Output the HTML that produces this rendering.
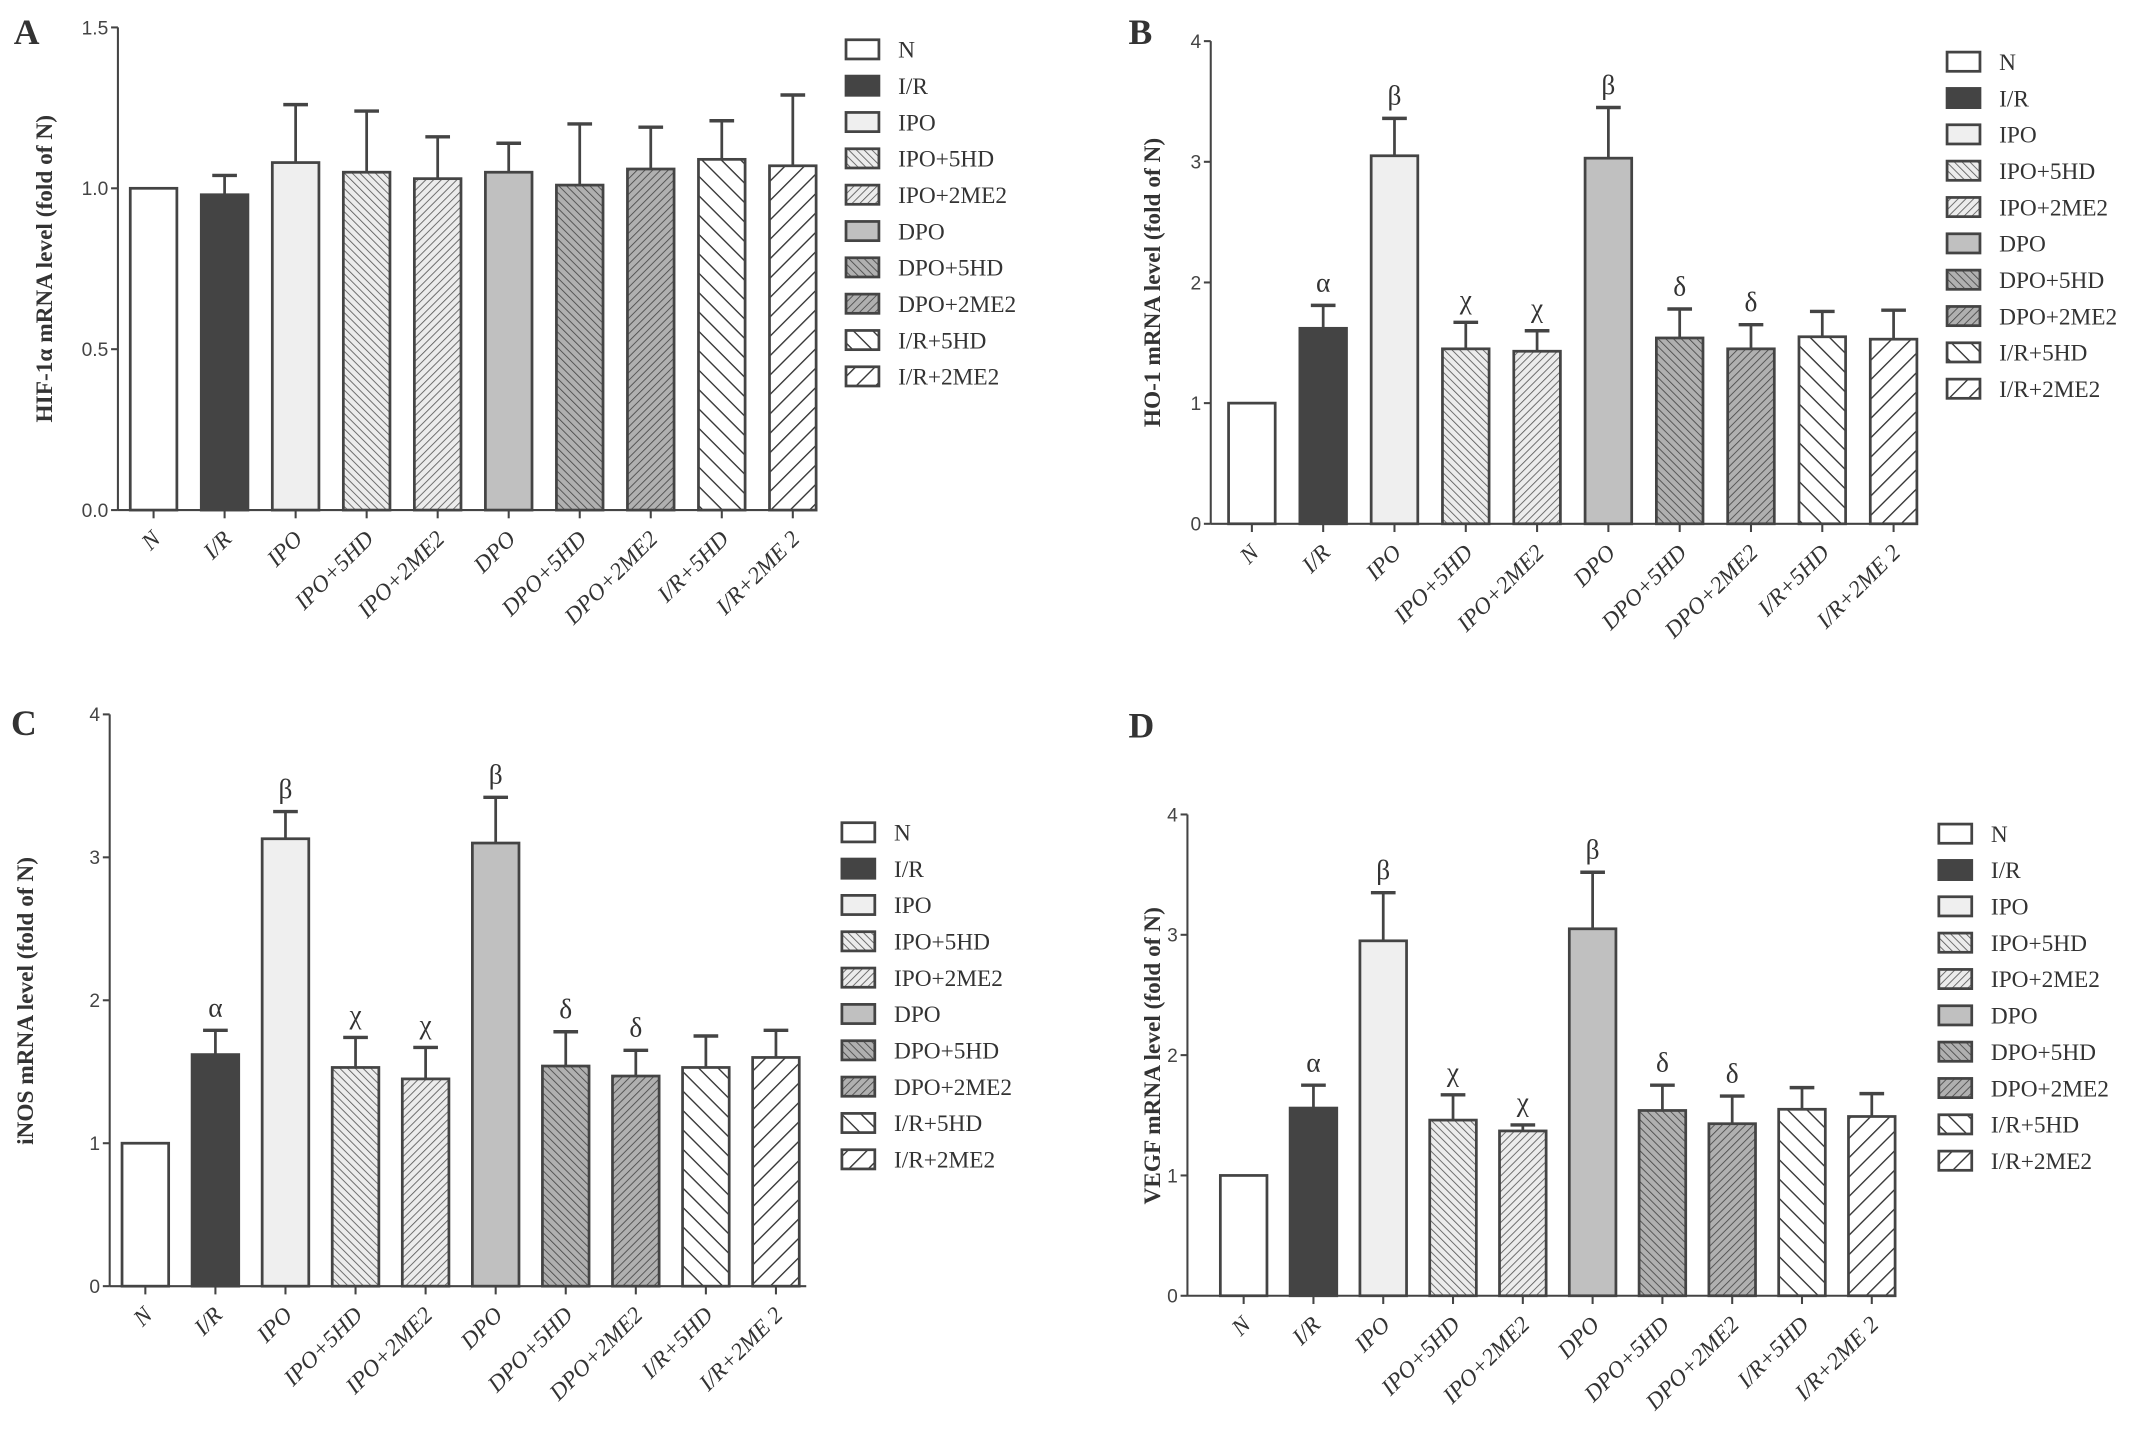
<!DOCTYPE html>
<html><head><meta charset="utf-8"><style>
html,body{margin:0;padding:0;background:#fff;}
svg{display:block;}
text{font-family:"Liberation Serif",serif;fill:#333;}
.tick{font-family:"Liberation Sans",sans-serif;font-size:14px;fill:#444;}
</style></head><body>
<svg id="fig" xmlns="http://www.w3.org/2000/svg" width="2150" height="1437" viewBox="0 0 1568 1048" preserveAspectRatio="none">
<defs>
<pattern id="p-ipo5" patternUnits="userSpaceOnUse" width="4" height="4" patternTransform="rotate(-45)"><rect width="4" height="4" fill="#ececec"/><line x1="0" y1="0" x2="0" y2="4" stroke="#555" stroke-width="1.2"/></pattern>
<pattern id="p-ipo2" patternUnits="userSpaceOnUse" width="4" height="4" patternTransform="rotate(45)"><rect width="4" height="4" fill="#ececec"/><line x1="0" y1="0" x2="0" y2="4" stroke="#555" stroke-width="1.2"/></pattern>
<pattern id="p-dpo5" patternUnits="userSpaceOnUse" width="4" height="4" patternTransform="rotate(-45)"><rect width="4" height="4" fill="#b0b0b0"/><line x1="0" y1="0" x2="0" y2="4" stroke="#444" stroke-width="1.2"/></pattern>
<pattern id="p-dpo2" patternUnits="userSpaceOnUse" width="4" height="4" patternTransform="rotate(45)"><rect width="4" height="4" fill="#b0b0b0"/><line x1="0" y1="0" x2="0" y2="4" stroke="#444" stroke-width="1.2"/></pattern>
<pattern id="p-ir5" patternUnits="userSpaceOnUse" width="10" height="10" patternTransform="rotate(45)"><rect width="10" height="10" fill="#fff"/><line x1="0" y1="0" x2="10" y2="0" stroke="#333" stroke-width="2"/></pattern>
<pattern id="p-ir2" patternUnits="userSpaceOnUse" width="10" height="10" patternTransform="rotate(-45)"><rect width="10" height="10" fill="#fff"/><line x1="0" y1="0" x2="10" y2="0" stroke="#333" stroke-width="2"/></pattern>
</defs>
</svg>
<script>
const categories = ["N","I/R","IPO","IPO+5HD","IPO+2ME2","DPO","DPO+5HD","DPO+2ME2","I/R+5HD","I/R+2ME2"];
const catLabels = ["N","I/R","IPO","IPO+5HD","IPO+2ME2","DPO","DPO+5HD","DPO+2ME2","I/R+5HD","I/R+2ME 2"];
const fills = ["#fff","#444","#efefef","url(#p-ipo5)","url(#p-ipo2)","#c0c0c0","url(#p-dpo5)","url(#p-dpo2)","url(#p-ir5)","url(#p-ir2)"];
const valuesA = [1.00,0.98,1.08,1.05,1.03,1.05,1.01,1.06,1.09,1.07];
const errTopA = [1.00,1.04,1.26,1.24,1.16,1.14,1.20,1.19,1.21,1.29];
const ticksA = [0.0,0.5,1.0,1.5];
const tickLabelsA = ["0.0","0.5","1.0","1.5"];
const valuesB = [1.00,1.62,3.05,1.45,1.43,3.03,1.54,1.45,1.55,1.53];
const errTopB = [1.00,1.81,3.36,1.67,1.60,3.45,1.78,1.65,1.76,1.77];
const valuesC = [1.00,1.62,3.13,1.53,1.45,3.10,1.54,1.47,1.53,1.60];
const errTopC = [1.00,1.79,3.32,1.74,1.67,3.42,1.78,1.65,1.75,1.79];
const valuesD = [1.00,1.56,2.95,1.46,1.37,3.05,1.54,1.43,1.55,1.49];
const errTopD = [1.00,1.75,3.35,1.67,1.42,3.52,1.75,1.66,1.73,1.68];
const ticks4 = [0,1,2,3,4];
const tickLabels4 = ["0","1","2","3","4"];
const annot = ["","α","β","χ","χ","β","δ","δ","",""];

const NS="http://www.w3.org/2000/svg";
const svg=document.getElementById('fig');
function mk(tag,attrs,parent,txt){const e=document.createElementNS(NS,tag);for(const k in attrs)e.setAttribute(k,attrs[k]);if(txt!==undefined)e.textContent=txt;(parent||svg).appendChild(e);return e;}

const panels=[
 {id:'a',letter:'A',lx:10,ly:32,ax:86,x0:112,step:51.8,xEnd:586,y0:372,yTop:20,ymax:1.5,vals:valuesA,errs:errTopA,ticks:ticksA,tl:tickLabelsA,title:'HIF-1α  mRNA level (fold of N)',tx:38,ty:196,legX:617,legY:36,ann:false},
 {id:'b',letter:'B',lx:823,ly:32,ax:883,x0:913,step:52,xEnd:1396,y0:382,yTop:30,ymax:4,vals:valuesB,errs:errTopB,ticks:ticks4,tl:tickLabels4,title:'HO-1 mRNA level (fold of N)',tx:846,ty:206,legX:1420,legY:45,ann:true},
 {id:'c',letter:'C',lx:8,ly:536,ax:80,x0:106,step:51.1,xEnd:588,y0:938,yTop:521,ymax:4,vals:valuesC,errs:errTopC,ticks:ticks4,tl:tickLabels4,title:'iNOS mRNA level (fold of N)',tx:24,ty:730,legX:614,legY:607,ann:true},
 {id:'d',letter:'D',lx:823,ly:538,ax:866,x0:907,step:50.9,xEnd:1383,y0:945,yTop:594,ymax:4,vals:valuesD,errs:errTopD,ticks:ticks4,tl:tickLabels4,title:'VEGF mRNA level (fold of N)',tx:846,ty:770,legX:1414,legY:608,ann:true}
];

panels.forEach(p=>{
 const g=mk('g',{});
 
 
 const yS=v=>p.y0-(v/p.ymax)*(p.y0-p.yTop);
 const xS=i=>p.x0+i*p.step;
 const L=mk('text',{x:p.lx,y:p.ly,'font-size':26,'font-weight':'bold',fill:'#222'},g,p.letter);
 
 
 const T=mk('text',{x:p.tx,y:p.ty,'font-size':17,'font-weight':'bold','text-anchor':'middle',transform:`rotate(-90 ${p.tx} ${p.ty})`},g,p.title);
 
 
 const ya=mk('line',{x1:p.ax,y1:p.yTop,x2:p.ax,y2:p.y0,stroke:'#444','stroke-width':1.5},g);
 
 
 const xa=mk('line',{x1:p.ax,y1:p.y0,x2:p.xEnd,y2:p.y0,stroke:'#444','stroke-width':1.5},g);
 
 
 p.ticks.forEach((t,k)=>{
  const y=yS(t);
  mk('line',{x1:p.ax-5,y1:y,x2:p.ax,y2:y,stroke:'#444','stroke-width':1.5},g);
  const tt=mk('text',{x:p.ax-7,y:y+5,'text-anchor':'end',class:'tick'},g,p.tl[k]);
  
  
 });
 categories.forEach((c,i)=>{
  const cx=xS(i), w=34;
  const top=yS(p.vals[i]), et=yS(p.errs[i]);
  if(p.errs[i]>p.vals[i]){
   mk('line',{x1:cx,y1:top,x2:cx,y2:et,stroke:'#444','stroke-width':2},g);
   mk('line',{x1:cx-9,y1:et,x2:cx+9,y2:et,stroke:'#444','stroke-width':2.5},g);
  }
  const r=mk('rect',{x:cx-w/2,y:top,width:w,height:p.y0-top,fill:fills[i],stroke:'#444','stroke-width':2},g);
  
  
  mk('line',{x1:cx,y1:p.y0,x2:cx,y2:p.y0+6,stroke:'#444','stroke-width':1.5},g);
  const lx=cx+6, ly=p.y0+22;
  const cl=mk('text',{x:lx,y:ly,'font-size':17,'text-anchor':'end','font-style':'italic',transform:`rotate(-45 ${lx} ${ly})`},g,catLabels[i]);
  
  
  if(p.ann && annot[i]){
   const a=mk('text',{x:cx,y:et-10,'font-size':20,'text-anchor':'middle'},g,annot[i]);
   
   
  }
  const yy=p.legY+i*26.5;
  const le=mk('g',{},g);
  
  
  mk('rect',{x:p.legX,y:yy-7,width:24,height:14,fill:fills[i],stroke:'#444','stroke-width':2},le);
  mk('text',{x:p.legX+38,y:yy+6,'font-size':17,fill:'#555'},le,c);
 });
});
</script>
</body></html>
